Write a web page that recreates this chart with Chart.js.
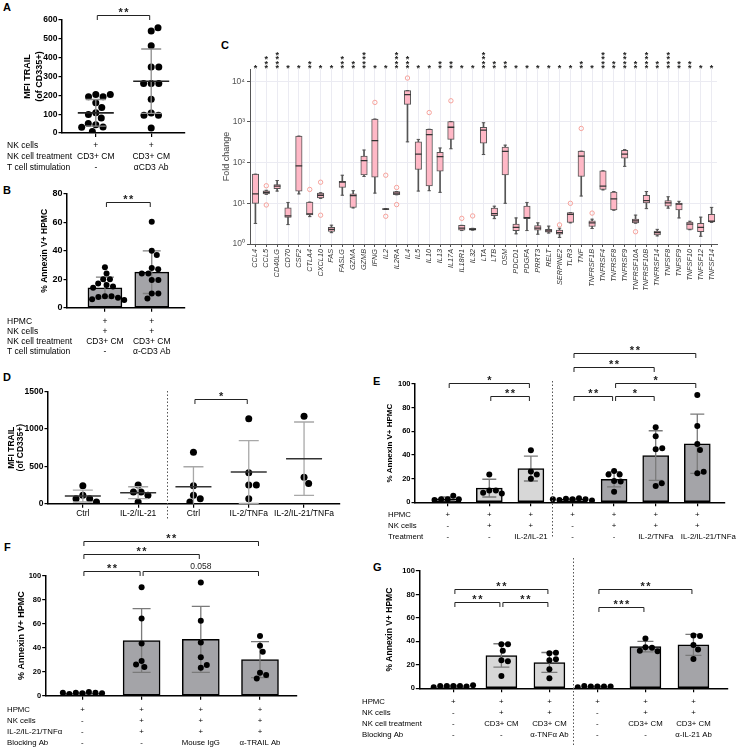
<!DOCTYPE html>
<html>
<head>
<meta charset="utf-8">
<script src="https://cdn.jsdelivr.net/npm/chart.js@4.4.0/dist/chart.umd.min.js"></script>
<style>
body { margin: 0; width: 747px; height: 749px; position: relative; overflow: hidden; background: #fff; font-family: "Liberation Sans", Arial, sans-serif; }
.lbl { position: absolute; font-weight: bold; font-size: 11px; line-height: 11px; color: #000; }
</style>
</head>
<body>
<div class="lbl" style="left:3px;top:2px">A</div>
<div class="lbl" style="left:3px;top:185px">B</div>
<div class="lbl" style="left:221px;top:40px">C</div>
<div class="lbl" style="left:3px;top:372px">D</div>
<div class="lbl" style="left:373px;top:376px">E</div>
<div class="lbl" style="left:4px;top:542px">F</div>
<div class="lbl" style="left:373px;top:562px">G</div>
<script>
// ---- data ----
// A
const aPoints = [[204, 192, 192, 204, 160, 135, 108, 80, 98, 44, 50, 32, 30, 8],
                 [541, 559, 463, 351, 351, 263, 263, 263, 179, 106, 94, 94, 27]];
const aMean = [107, 275];
const aSd = [71, 171];
const aRows = [['NK cells', '+', '+'], ['NK cell treatment', 'CD3+ CM', 'CD3+ CM'], ['T cell stimulation', '-', 'αCD3 Ab']];

// B
const bPoints = [[28.5, 24, 20, 20, 17, 16, 15, 14, 8, 8, 7.5, 7, 6, 5.5],
                 [60.5, 40, 37, 28, 27, 24, 24, 19.5, 19.5, 10, 10, 6.5]];
const bMean = [14, 25];
const bSd = [7.5, 15];
const bRows = [['HPMC', '+', '+'], ['NK cells', '+', '+'], ['NK cell treatment', 'CD3+ CM', 'CD3+ CM'], ['T cell stimulation', '-', 'α-CD3 Ab']];

// C
const cGenes = ['CCL4', 'CCL5', 'CD40LG', 'CD70', 'CSF2', 'CTLA4', 'CXCL10', 'FAS', 'FASLG', 'GZMA', 'GZMB', 'IFNG', 'IL2', 'IL2RA', 'IL4', 'IL5', 'IL10', 'IL13', 'IL17A', 'IL18R1', 'IL32',
  'LTA', 'LTB', 'OSM', 'PDCD1', 'PDGFA', 'PRRT3', 'RELT', 'SERPINE2', 'TLR3', 'TNF', 'TNFRSF1B', 'TNFRSF4', 'TNFRSF8', 'TNFRSF9', 'TNFRSF10A', 'TNFRSF10B', 'TNFRSF14', 'TNFSF8', 'TNFSF9', 'TNFSF10', 'TNFSF12', 'TNFSF14'];
const cMin = [3.2, 16.6, 20, 3.0, 17, 4.7, 13.2, 1.9, 15.8, 7.7, 45.7, 17.8, 7.1, 16.2, 324, 20, 20.4, 18.6, 219, 2.14, 2.19,
  158, 4.2, 10, 1.78, 2.14, 1.74, 1.86, 1.45, 3.31, 15.1, 2.4, 21.4, 6.76, 81, 3.24, 7.4, 1.58, 7.6, 4.37, 2.24, 1.55, 3.39];
const cQ1 = [10, 17, 22.9, 4.5, 20, 5.2, 13.5, 2.04, 24.5, 7.9, 50, 43.7, 7.1, 16.2, 2690, 67.6, 26.9, 61.7, 372, 2.19, 2.19,
  302, 5.0, 50, 2.14, 4.17, 2.19, 1.95, 1.74, 3.39, 45.7, 2.69, 21.9, 6.9, 129, 3.31, 10.2, 1.66, 8.5, 6.9, 2.29, 2.0, 3.47];
const cMed = [17, 18.6, 26.3, 4.9, 83, 5.5, 15.8, 2.3, 33, 15.5, 112, 347, 7.2, 17.8, 4680, 162, 490, 141, 741, 2.45, 2.29,
  631, 5.6, 190, 2.57, 4.47, 2.45, 2.09, 1.91, 5.37, 145, 3.31, 26.3, 12.9, 162, 3.72, 11.7, 1.91, 10.2, 9.5, 3.09, 2.57, 3.63];
const cQ3 = [52, 20.4, 28.8, 7.7, 447, 10.7, 17.8, 2.57, 34.7, 17, 145, 1175, 7.4, 19.5, 5890, 324, 661, 178, 1023, 2.88, 2.43,
  741, 7.6, 240, 3.09, 8.5, 2.82, 2.29, 2.19, 5.89, 191, 3.72, 63, 19, 200, 4.07, 15.8, 2.09, 11.7, 10.2, 3.47, 3.24, 5.37];
const cMax = [52, 20.9, 36.3, 10.5, 447, 10.7, 18.2, 2.9, 49, 20.4, 204, 1175, 7.4, 19.5, 5890, 372, 661, 229, 1023, 2.88, 2.43,
  955, 8.5, 269, 4.37, 10.5, 3.31, 2.75, 2.45, 5.89, 191, 4.07, 63, 19.5, 209, 5.13, 19.5, 2.29, 14.5, 11.2, 3.63, 4.57, 7.94];
const cOutlierGene = ['CCL5', 'CCL5', 'CTLA4', 'CXCL10', 'CXCL10', 'IFNG', 'IL2', 'IL2', 'IL2RA', 'IL2RA', 'IL4', 'IL10', 'IL17A', 'IL18R1', 'IL32', 'SERPINE2', 'TLR3', 'TNF', 'TNFRSF1B', 'TNFRSF10A'];
const cOutlierValue = [27, 9.1, 21.9, 33, 5.1, 3020, 49, 4.8, 24.5, 9.3, 12000, 1700, 3311, 4.27, 4.9, 2.95, 10, 692, 5.75, 2.0];
const cStars = [1, 3, 4, 1, 1, 2, 1, 1, 3, 2, 4, 1, 1, 4, 3, 1, 1, 2, 2, 1, 1, 4, 2, 2, 1, 1, 1, 1, 1, 1, 2, 1, 4, 2, 4, 2, 4, 2, 4, 2, 2, 1, 1];
const cTickValues = [1, 10, 100, 1000, 10000];
const cTickLabels = ['10⁰', '10¹', '10²', '10³', '10⁴'];

// D
const dLabels = ['Ctrl', 'IL-2/IL-21', 'Ctrl', 'IL-2/TNFa', 'IL-2/IL-21/TNFa'];
const dPoints = [[241, 112, 67, 67, 22], [250, 156, 156, 112, 22], [688, 241, 112, 67, 22], [1138, 415, 250, 250, 67], [1170, 353, 272]];
const dMean = [103, 147, 228, 424, 603];
const dSd = [80, 80, 267, 420, 491];

// E
const ePoints = [[2.5, 5.5, 2.5, 2.5, 2], [23.5, 10, 10, 8, 7.5], [44, 26, 23.5, 20], [2.5, 3.5, 3, 2.5, 2, 1.5, 2.5],
                 [26.5, 23.5, 23.5, 18, 17.5, 9], [63.4, 55.8, 44.8, 45.6, 13.8, 16], [90.7, 64.5, 49.3, 44.2, 24.5, 25.9]];
const eMean = [3, 12, 28.5, 2.5, 19.5, 39.5, 49.5];
const eSd = [1.5, 7.5, 10.5, 0.7, 6.5, 21, 25];
const eTone = [0, 0, 0, 1, 1, 1, 1];
const eRows = [['HPMC', '+', '+', '+', '+', '+', '+', '+'], ['NK cells', '-', '+', '+', '-', '+', '+', '+'],
               ['Treatment', '-', '-', 'IL-2/IL-21', '-', '-', 'IL-2/TNFa', 'IL-2/IL-21/TNFa']];

// F
const fPoints = [[2, 3, 2.5, 2.5, 1.5, 2.5, 2], [90.3, 64.4, 43.6, 29, 24, 26], [94.4, 62.5, 44.4, 32, 23.3, 25.6], [49.7, 41.7, 36.7, 19.2, 17.2, 14.4]];
const fMean = [2, 46, 47, 30];
const fSd = [0.7, 26.5, 27.5, 15];
const fTone = [1, 1, 1, 1];
const fRows = [['HPMC', '+', '+', '+', '+'], ['NK cells', '-', '+', '+', '+'], ['IL-2/IL-21/TNFα', '-', '+', '+', '+'], ['Blocking Ab', '-', '-', 'Mouse IgG', 'α-TRAIL Ab']];

// G
const gPoints = [[2, 2, 2, 1.5, 2, 1, 2.5], [37.5, 37.5, 32, 24, 23, 10.5], [29.8, 30.4, 24, 24.7, 16.2, 8.5], [1.5, 1.5, 1.5, 1.5, 2, 1],
                 [42.5, 35, 34.5, 32, 31.5], [45, 44.5, 37, 33, 25]];
const gMean = [2, 28, 22, 1.5, 35.5, 37];
const gSd = [0.5, 10, 8.5, 0.4, 4.5, 9];
const gTone = [0, 0, 0, 1, 1, 1];
const gRows = [['HPMC', '+', '+', '+', '+', '+', '+'], ['NK cells', '-', '+', '+', '-', '+', '+'],
               ['NK cell treatment', '-', 'CD3+ CM', 'CD3+ CM', '-', 'CD3+ CM', 'CD3+ CM'], ['Blocking Ab', '-', '-', 'α-TNFα Ab', '-', '-', 'α-IL-21 Ab']];

// ---- setup ----
const FONT = '"Liberation Sans", Arial, sans-serif';
const DARK = '#A4A4A8', LIGHT = '#D7D7D7';
Chart.defaults.font.family = FONT;
Chart.defaults.color = '#000';
Chart.defaults.animation = false;
Chart.defaults.responsive = false;
Chart.defaults.plugins.legend.display = false;
Chart.defaults.plugins.tooltip.enabled = false;

function extras(o) {
  return {
    id: 'extras',
    afterDatasetDraw(chart, args) {
      if (args.index !== 0 || !o.errors) return;
      const e = o.errors, ctx = chart.ctx, xs = chart.scales.x, ys = chart.scales.y;
      ctx.save();
      e.means.forEach((m, i) => {
        const px = xs.getPixelForValue(i);
        const lo = m - e.sds[i];
        const pTop = ys.getPixelForValue(m + e.sds[i]);
        const pBot = ys.getPixelForValue(Math.max(lo, ys.min));
        ctx.strokeStyle = e.color;
        ctx.lineWidth = 1.3;
        ctx.beginPath();
        ctx.moveTo(px, pTop); ctx.lineTo(px, pBot);
        ctx.moveTo(px - e.cap, pTop); ctx.lineTo(px + e.cap, pTop);
        if (lo > ys.min) { ctx.moveTo(px - e.cap, pBot); ctx.lineTo(px + e.cap, pBot); }
        ctx.stroke();
        if (e.meanHalf) {
          const pm = ys.getPixelForValue(m);
          ctx.strokeStyle = e.meanColor;
          ctx.lineWidth = 1.6;
          ctx.beginPath(); ctx.moveTo(px - e.meanHalf, pm); ctx.lineTo(px + e.meanHalf, pm); ctx.stroke();
        }
      });
      ctx.restore();
    },
    afterDraw(chart) {
      const ctx = chart.ctx, xs = chart.scales.x, ys = chart.scales.y, ca = chart.chartArea;
      ctx.save();
      if (o.title) {
        const t = o.title;
        ctx.font = (t.bold ? 'bold ' : '') + t.size + 'px ' + FONT;
        ctx.fillStyle = t.color || '#000';
        ctx.textAlign = 'center'; ctx.textBaseline = 'middle';
        t.lines.forEach((line, i) => {
          ctx.save();
          ctx.translate(t.cx - o.box.l + i * t.lh, (ca.top + ca.bottom) / 2);
          ctx.rotate(-Math.PI / 2);
          ctx.fillText(line, 0, 0);
          ctx.restore();
        });
      }
      (o.dividers || []).forEach(dv => {
        const px = Math.round(xs.getPixelForValue(dv.x)) + 0.5;
        ctx.strokeStyle = '#555'; ctx.lineWidth = 1; ctx.setLineDash([1.5, 2]);
        ctx.beginPath(); ctx.moveTo(px, dv.y0 - o.box.t); ctx.lineTo(px, dv.y1 - o.box.t); ctx.stroke();
        ctx.setLineDash([]);
      });
      (o.brackets || []).forEach(b => {
        const x0 = xs.getPixelForValue(b.a) + 1.5, x1 = xs.getPixelForValue(b.b) - 1.5;
        const py = Math.round(ys.getPixelForValue(b.y)) + 0.5;
        ctx.strokeStyle = '#222'; ctx.lineWidth = 1;
        ctx.beginPath(); ctx.moveTo(x0, py + 4.5); ctx.lineTo(x0, py); ctx.lineTo(x1, py); ctx.lineTo(x1, py + 4.5); ctx.stroke();
        const mid = (x0 + x1) / 2;
        ctx.fillStyle = '#222'; ctx.textAlign = 'center'; ctx.textBaseline = 'alphabetic';
        if (/^\*+$/.test(b.t)) {
          ctx.font = 'bold 11px ' + FONT;
          const n = b.t.length;
          for (let k = 0; k < n; k++) ctx.fillText('*', mid + (k - (n - 1) / 2) * 5.8, py + 0.5);
        } else {
          ctx.font = '8.5px ' + FONT;
          ctx.fillText(b.t, mid, py - 3);
        }
      });
      if (o.table) {
        const t = o.table;
        ctx.font = t.font + 'px ' + FONT; ctx.fillStyle = '#000'; ctx.textBaseline = 'middle';
        t.rows.forEach((row, r) => {
          const py = ca.bottom + t.start + r * t.step;
          ctx.textAlign = 'left';
          ctx.fillText(row[0], t.x - o.box.l, py);
          ctx.textAlign = 'center';
          row.slice(1).forEach((v, i) => {
            const nudge = (t.nudge && t.nudge.row === r && t.nudge.col === i) ? t.nudge.dx : 0;
            ctx.fillText(v, xs.getPixelForValue(i) + nudge, py);
          });
        });
      }
      if (o.stars) {
        ctx.font = 'bold 9px ' + FONT; ctx.textAlign = 'center'; ctx.textBaseline = 'alphabetic'; ctx.fillStyle = '#222';
        o.stars.forEach((n, i) => {
          const px = xs.getPixelForValue(i);
          for (let k = 0; k < n; k++) ctx.fillText('*', px, o.starBase - o.box.t + 5.2 - k * 4.4);
        });
      }
      ctx.restore();
    }
  };
}

// create the chart, then nudge the layout padding until the plot area sits where the reference has it
function build(box, area, yw, xh, config, opts) {
  const canvas = document.createElement('canvas');
  canvas.width = box.w; canvas.height = box.h;
  canvas.style.cssText = 'position:absolute;left:' + box.l + 'px;top:' + box.t + 'px';
  document.body.appendChild(canvas);
  const pad = {left: area.l - box.l - yw, top: area.t - box.t, right: box.l + box.w - area.r, bottom: box.t + box.h - area.b - xh};
  config.options.layout = {padding: pad};
  config.options.scales.y.afterFit = s => { s.width = yw; };
  config.options.scales.x.afterFit = s => { s.height = xh; };
  opts.box = box;
  config.plugins = [extras(opts)];
  const chart = new Chart(canvas, config);
  for (let k = 0; k < 4; k++) {
    const ca = chart.chartArea;
    const dl = (area.l - box.l) - ca.left, dt = (area.t - box.t) - ca.top;
    const dr = ca.right - (area.r - box.l), db = ca.bottom - (area.b - box.t);
    if (Math.abs(dl) + Math.abs(dt) + Math.abs(dr) + Math.abs(db) < 0.3) break;
    pad.left += dl; pad.top += dt; pad.right += dr; pad.bottom += db;
    chart.update('none');
  }
  return chart;
}

function yAxis(max, step, tickSize) {
  return {
    type: 'linear', min: 0, max: max,
    ticks: {stepSize: step, font: {size: tickSize, weight: 'bold'}, color: '#000', padding: 1, callback: v => String(v)},
    grid: {drawOnChartArea: false, drawTicks: true, tickLength: 3.5, color: '#000', lineWidth: 1.2},
    border: {color: '#000', width: 1.5}
  };
}

function xAxis(min, max, n, labels, size) {
  return {
    type: 'linear', min: min, max: max, offset: false,
    afterBuildTicks: s => { s.ticks = Array.from({length: n}, (_, i) => ({value: i})); },
    ticks: {display: !!labels, autoSkip: false, maxRotation: 0, font: {size: size || 8}, color: '#000', padding: 1,
            callback: v => (labels ? labels[v] : '')},
    grid: {offset: false, drawOnChartArea: false, drawTicks: true, tickLength: 4, color: '#000', lineWidth: 1.2},
    border: {color: '#000', width: 1.5}
  };
}

function swarm(chart, groups, r) {
  const xs = chart.scales.x, ys = chart.scales.y;
  const unit = xs.getPixelForValue(1) - xs.getPixelForValue(0);
  const d = 2 * r + 0.6;
  const out = [];
  groups.forEach((vals, g) => {
    const placed = [];
    vals.forEach(v => {
      const py = ys.getPixelForValue(v);
      const cands = [0];
      placed.forEach(p => {
        const dy = Math.abs(p.y - py);
        if (dy < d) { const dx = Math.sqrt(d * d - dy * dy); cands.push(p.x + dx, p.x - dx); }
      });
      cands.sort((a, b) => Math.abs(a) - Math.abs(b));
      let ok = cands.find(c => placed.every(p => (p.x - c) ** 2 + (p.y - py) ** 2 >= d * d - 0.01));
      if (ok === undefined) ok = 0;
      placed.push({x: ok, y: py});
      out.push({x: g + ok / unit, y: v});
    });
  });
  return out;
}

function pointsSet(r) {
  return {type: 'scatter', data: [], pointRadius: r, pointBackgroundColor: '#000', pointBorderWidth: 0, order: 1};
}

function barSet(means, tone, width) {
  return {type: 'bar', data: means.map((m, i) => ({x: i, y: m})), backgroundColor: tone.map(t => (t ? DARK : LIGHT)),
          borderColor: '#000', borderWidth: 1.5, borderSkipped: false, barThickness: width, grouped: false, order: 2};
}

function finish(chart, dsIndex, groups, r) {
  chart.data.datasets[dsIndex].data = swarm(chart, groups, r);
  chart.update('none');
}

// ---- A ----
const chartA = build({l: 0, t: 0, w: 200, h: 178}, {l: 62, t: 20, r: 185, b: 133}, 26, 6, {
  type: 'scatter',
  data: {datasets: [pointsSet(3.5)]},
  options: {scales: {x: xAxis(-0.61, 1.61, 2), y: yAxis(600, 100, 8.5)}}
}, {
  title: {lines: ['MFI TRAIL', '(of CD335+)'], cx: 28, lh: 11.5, size: 9, bold: true},
  errors: {means: aMean, sds: aSd, cap: 10, meanHalf: 18, color: '#8c8c8c', meanColor: '#222'},
  brackets: [{a: 0, b: 1, y: 628, t: '**'}],
  table: {x: 7, start: 12.7, step: 10.8, font: 8.5, rows: aRows}
});
finish(chartA, 0, aPoints, 3.5);

// ---- B ----
const chartB = build({l: 0, t: 178, w: 200, h: 182}, {l: 67, t: 194, r: 185, b: 307.7}, 22, 6, {
  type: 'bar',
  data: {datasets: [barSet(bMean, [1, 1], 34), pointsSet(3)]},
  options: {scales: {x: xAxis(-0.81, 1.71, 2), y: yAxis(80, 20, 9)}}
}, {
  title: {lines: ['% Annexin V+ HPMC'], cx: 45, lh: 10, size: 8.5, bold: true},
  errors: {means: bMean, sds: bSd, cap: 9, color: '#808080'},
  brackets: [{a: 0, b: 1, y: 74.6, t: '**'}],
  table: {x: 7, start: 14, step: 10, font: 8.5, rows: bRows}
});
finish(chartB, 1, bPoints, 3);

// ---- C ----
build({l: 200, t: 30, w: 547, h: 280}, {l: 250, t: 69, r: 717, b: 244}, 26, 60, {
  type: 'bar',
  data: {labels: cGenes, datasets: [
    {type: 'bar', data: cGenes.map((g, i) => [cMin[i], cMax[i]]), backgroundColor: '#555', barThickness: 1, grouped: false, order: 4},
    {type: 'bar', data: cGenes.map((g, i) => [cQ1[i], cQ3[i]]), backgroundColor: '#FFB8C6', borderColor: '#555', borderWidth: 1,
     borderSkipped: false, barThickness: 6.5, grouped: false, order: 3},
    {type: 'line', data: cMed, showLine: false, pointStyle: 'line', pointRadius: 3.3, pointBorderWidth: 1.3, pointBorderColor: '#333', order: 2},
    {type: 'line', data: cMin, showLine: false, pointStyle: 'line', pointRadius: 1.7, pointBorderWidth: 1, pointBorderColor: '#555', order: 2},
    {type: 'line', data: cMax, showLine: false, pointStyle: 'line', pointRadius: 1.7, pointBorderWidth: 1, pointBorderColor: '#555', order: 2},
    {type: 'line', data: cOutlierGene.map((g, i) => ({x: g, y: cOutlierValue[i]})), showLine: false, pointStyle: 'circle',
     pointRadius: 2.2, pointBorderWidth: 1, pointBorderColor: '#F6A29B', pointBackgroundColor: 'rgba(0,0,0,0)', order: 1}
  ]},
  options: {scales: {
    x: {type: 'category', offset: true,
        grid: {offset: false, color: '#ebebf2', lineWidth: 1, tickColor: '#555', tickLength: 3},
        border: {color: '#555', width: 1},
        ticks: {autoSkip: false, minRotation: 90, maxRotation: 90, font: {size: 7.3, style: 'italic'}, color: '#333', padding: 2}},
    y: {type: 'logarithmic', min: 1, max: 20000,
        afterBuildTicks: s => { s.ticks = cTickValues.map(v => ({value: v})); },
        ticks: {callback: (v, i) => cTickLabels[i], font: {size: 8.5}, color: '#555', padding: 2},
        grid: {color: '#ebebf2', tickColor: '#555', tickLength: 3},
        border: {color: '#555', width: 1}}
  }}
}, {
  title: {lines: ['Fold change'], cx: 227, lh: 10, size: 9, color: '#444'},
  stars: cStars, starBase: 65.7
});

// ---- D ----
const chartD = build({l: 0, t: 365, w: 368, h: 163}, {l: 48, t: 391.7, r: 340, b: 503.7}, 26, 18, {
  type: 'scatter',
  data: {datasets: [pointsSet(3.5)]},
  options: {scales: {x: xAxis(-0.63, 4.65, 5, dLabels, 8.5), y: yAxis(1500, 500, 8.5)}}
}, {
  title: {lines: ['MFI TRAIL', '(of CD335+)'], cx: 11.5, lh: 9.5, size: 8.5, bold: true},
  errors: {means: dMean, sds: dSd, cap: 10, meanHalf: 18, color: '#a8a8a8', meanColor: '#333'},
  brackets: [{a: 2, b: 3, y: 1398, t: '*'}],
  dividers: [{x: 1.53, y0: 391, y1: 519}]
});
finish(chartD, 0, dPoints, 3.5);

// ---- E ----
const chartE = build({l: 370, t: 340, w: 377, h: 205}, {l: 415, t: 384, r: 725, b: 502.3}, 22, 6, {
  type: 'bar',
  data: {datasets: [barSet(eMean, eTone, 26), pointsSet(3)]},
  options: {scales: {x: xAxis(-0.786, 6.666, 7), y: yAxis(100, 20, 7.5)}}
}, {
  title: {lines: ['% Annexin V+ HPMC'], cx: 390, lh: 10, size: 8, bold: true},
  errors: {means: eMean, sds: eSd, cap: 7, color: '#7a7a7a'},
  brackets: [{a: 0, b: 2, y: 101, t: '*'}, {a: 1, b: 2, y: 90, t: '**'}, {a: 3, b: 6, y: 126.5, t: '**'}, {a: 3, b: 5, y: 114.7, t: '**'},
             {a: 4, b: 6, y: 101, t: '*'}, {a: 3, b: 4, y: 90, t: '**'}, {a: 4, b: 5, y: 90, t: '*'}],
  dividers: [{x: 2.5, y0: 381, y1: 537}],
  table: {x: 388, start: 12.7, step: 11, font: 7.8, rows: eRows, nudge: {row: 2, col: 6, dx: 11}}
});
finish(chartE, 1, ePoints, 3);

// ---- F ----
const chartF = build({l: 0, t: 528, w: 365, h: 221}, {l: 45.7, t: 575.7, r: 296.7, b: 695.7}, 22, 6, {
  type: 'bar',
  data: {datasets: [barSet(fMean, fTone, 37), pointsSet(3)]},
  options: {scales: {x: xAxis(-0.62, 3.62, 4), y: yAxis(100, 20, 7.5)}}
}, {
  title: {lines: ['% Annexin V+ HPMC'], cx: 21.7, lh: 10, size: 9, bold: true},
  errors: {means: fMean, sds: fSd, cap: 9, color: '#7a7a7a'},
  brackets: [{a: 0, b: 3, y: 129, t: '**'}, {a: 0, b: 2, y: 118, t: '**'}, {a: 0, b: 1, y: 104, t: '**'}, {a: 1, b: 3, y: 104, t: '0.058'}],
  table: {x: 7, start: 14.3, step: 11, font: 7.8, rows: fRows}
});
finish(chartF, 1, fPoints, 3);

// ---- G ----
const chartG = build({l: 358, t: 556, w: 389, h: 193}, {l: 419.3, t: 571, r: 728, b: 688.3}, 22, 6, {
  type: 'bar',
  data: {datasets: [barSet(gMean, gTone, 31), pointsSet(3)]},
  options: {scales: {x: xAxis(-0.71, 5.72, 6), y: yAxis(100, 20, 7.5)}}
}, {
  title: {lines: ['% Annexin V+ HPMC'], cx: 390, lh: 10, size: 8.5, bold: true},
  errors: {means: gMean, sds: gSd, cap: 8, color: '#7a7a7a'},
  brackets: [{a: 0, b: 2, y: 85, t: '**'}, {a: 0, b: 1, y: 73.6, t: '**'}, {a: 1, b: 2, y: 73.6, t: '**'},
             {a: 3, b: 5, y: 85, t: '**'}, {a: 3, b: 4, y: 69.1, t: '***'}],
  dividers: [{x: 2.5, y0: 558, y1: 745}],
  table: {x: 362, start: 13.7, step: 10.8, font: 7.8, rows: gRows}
});
finish(chartG, 1, gPoints, 3);
</script>
</body>
</html>
